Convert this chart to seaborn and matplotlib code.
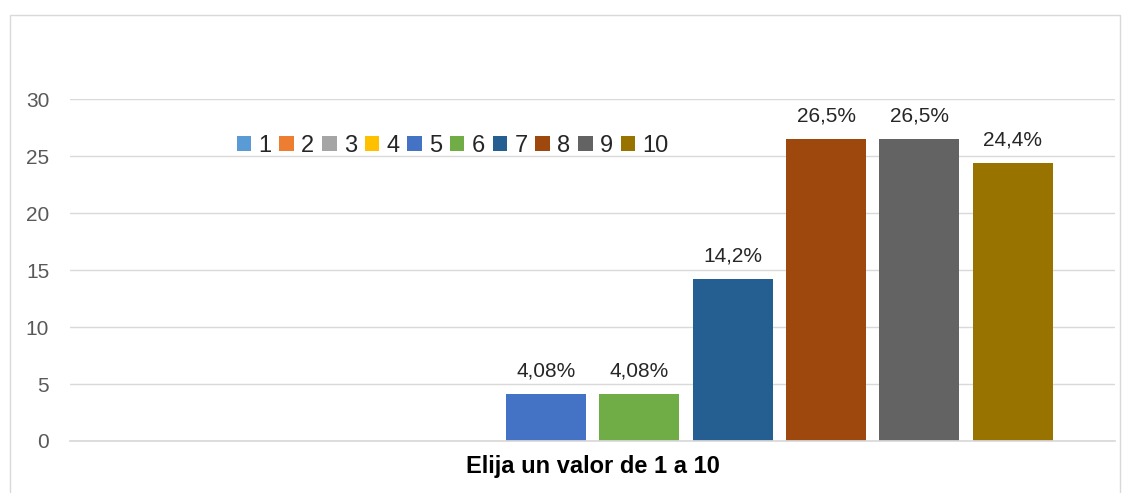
import matplotlib
matplotlib.use("Agg")
import matplotlib.pyplot as plt
import seaborn as sns
import pandas as pd
from matplotlib.patches import Rectangle

categories = ["1", "2", "3", "4", "5", "6", "7", "8", "9", "10"]
values = [0, 0, 0, 0, 4.08, 4.08, 14.2, 26.5, 26.5, 24.4]
value_labels = ["", "", "", "", "4,08%", "4,08%", "14,2%", "26,5%", "26,5%", "24,4%"]
group_label = "Elija un valor de 1 a 10"
colors = ["#5B9BD5", "#ED7D31", "#A5A5A5", "#FFC000", "#4472C4",
          "#70AD47", "#255E91", "#9E480E", "#636363", "#997300"]
yticks = [0, 5, 10, 15, 20, 25, 30]

df = pd.DataFrame({"grupo": [group_label] * len(categories),
                   "valor": categories, "pct": values})

sns.set_theme(style="white")
plt.rcParams['font.family'] = ['Liberation Sans', 'DejaVu Sans']

fig = plt.figure(figsize=(11.3, 4.93), dpi=100)
ax = fig.add_axes([0.062, 0.1055, 0.925, 0.6935])

sns.barplot(data=df, x="grupo", y="pct", hue="valor", hue_order=categories,
            palette=colors, width=0.893, gap=0.143, ax=ax, legend=True,
            saturation=1, errorbar=None, linewidth=0)

ax.set_ylim(0, 30)
ax.set_xlim(-0.5, 0.5)
ax.set_yticks(yticks)
ax.set_yticklabels([str(t) for t in yticks], fontsize=15, color="#595959")
ax.yaxis.grid(True, color="#D9D9D9", linewidth=1)
ax.set_axisbelow(True)
for s in ["top", "right", "left"]:
    ax.spines[s].set_visible(False)
ax.spines["bottom"].set_color("#D9D9D9")
ax.tick_params(axis="y", length=0, pad=15)
ax.tick_params(axis="x", length=0, pad=10)
ax.set_xlabel("")
ax.set_ylabel("")
ax.set_xticks([0])
ax.set_xticklabels([group_label], fontsize=17, fontweight="bold", color="black")

for cont, lab in zip(ax.containers, value_labels):
    ax.bar_label(cont, labels=[lab], padding=10, fontsize=15, color="#262626",
                 clip_on=False)

leg = ax.legend(loc="center", bbox_to_anchor=(0.366, 0.863), ncol=10, frameon=False,
                fontsize=17, handlelength=0.62, handleheight=0.62,
                handletextpad=0.3, columnspacing=0.33, borderaxespad=0)

fig.patches.append(Rectangle((10 / 1130, -0.01), 1110 / 1130, 0.99 - 10 / 493 + 0.01,
                             transform=fig.transFigure, fill=False,
                             edgecolor="#D9D9D9", linewidth=1))

fig.savefig("out.png", dpi=100)
